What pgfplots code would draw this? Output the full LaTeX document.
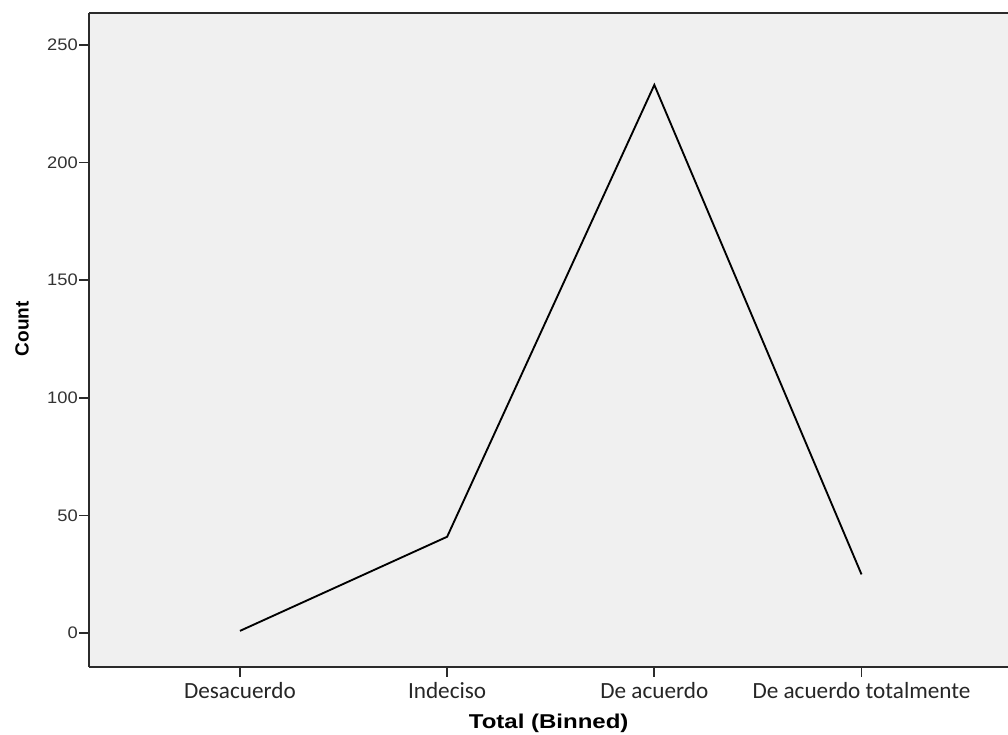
\documentclass[border=0pt]{standalone}
\usepackage{fontspec}
\setmainfont{Liberation Sans}
\newfontfamily\calib{Carlito}
\newfontfamily\tickfont[FakeStretch=1.1]{Liberation Sans}
\newfontfamily\titlefont[FakeStretch=1.2]{Liberation Sans}
\usepackage{pgfplots}
\pgfplotsset{compat=1.18}
\definecolor{plotbg}{HTML}{F0F0F0}
\definecolor{frame}{HTML}{2B2B2B}
\begin{document}
\begin{tikzpicture}
\begin{axis}[
  scale only axis,
  width=689pt, height=490.5pt,
  xmin=-0.727, xmax=3.707,
  ymin=-14.2, ymax=263.7,
  axis x line*=box,
  axis y line*=left,
  xtick pos=bottom, ytick pos=left,
  axis line style={frame, line width=1.4pt},
  axis background/.style={fill=plotbg},
  tick align=outside,
  major tick length=7.5pt,
  tick style={frame, line width=1.3pt},
  xtick={0,1,2,3},
  xticklabels={Desacuerdo, Indeciso, De acuerdo, De acuerdo totalmente},
  xticklabel style={font=\calib\fontsize{17.4}{21}\selectfont, text=black!85, anchor=base, yshift=-16.5pt},
  ytick={0,50,100,150,200,250},
  yticklabel style={font=\tickfont\fontsize{12.5}{14}\selectfont, text=black!80, inner sep=0pt, xshift=-1pt},
  /pgf/number format/assume math mode=true,
  xlabel={Total (Binned)},
  xlabel style={font=\titlefont\bfseries\fontsize{15}{18}\selectfont, at={(axis description cs:0.5,-0.086)}, anchor=center},
  ylabel={Count},
  ylabel style={font=\bfseries\fontsize{14.3}{17}\selectfont, at={(axis description cs:-0.0733,0.517)}, anchor=center, rotate=0},
  clip=false,
]
\addplot[black, line width=1.4pt, mark=none] coordinates {
  (0,1) (1,41) (2,233) (3,25)
};
\end{axis}
\pgfresetboundingbox
\path[use as bounding box] (-67pt,-51.2pt) rectangle (689pt,500pt);
\end{tikzpicture}
\end{document}
